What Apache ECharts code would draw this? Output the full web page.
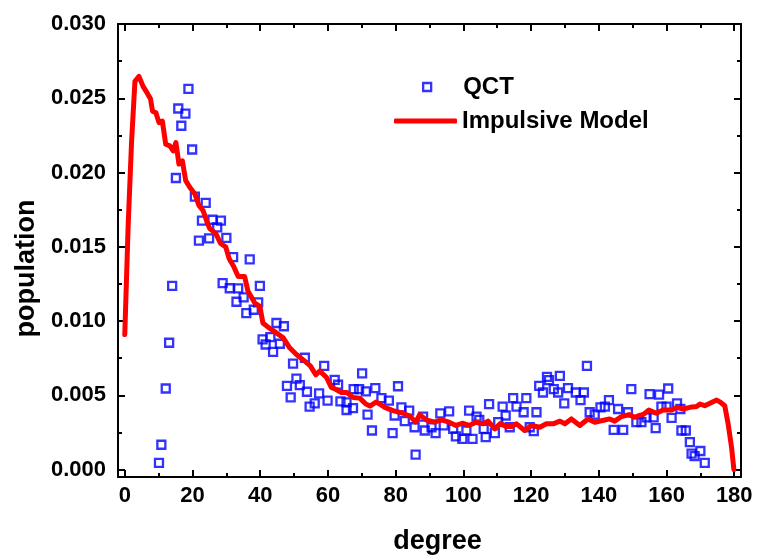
<!DOCTYPE html>
<html><head><meta charset="utf-8">
<script src="https://cdn.jsdelivr.net/npm/echarts@6/dist/echarts.min.js"></script>
<style>html,body{margin:0;padding:0;background:#fff}#c{width:757px;height:560px}</style>
</head><body><div id="c"></div>
<script>
var qctDeg = [10.1,10.8,12.1,13.1,14.0,15.1,15.8,16.7,17.9,18.8,19.9,20.7,21.9,22.8,23.9,24.9,25.9,27.3,28.4,28.9,30.0,31.0,32.0,33.0,33.5,35.1,35.9,36.9,38.1,39.4,39.9,40.7,41.6,43.0,43.8,44.8,45.8,47.0,47.9,49.0,49.7,50.7,51.7,53.2,53.8,54.6,56.1,57.4,58.9,59.9,62.0,63.0,63.7,65.5,65.5,67.4,67.6,69.2,70.1,71.2,71.7,73.0,74.0,75.8,78.0,79.1,79.7,80.7,81.7,82.7,84.0,85.6,85.9,88.1,88.6,90.6,91.8,93.2,94.2,95.8,97.0,97.8,99.7,100.9,101.7,102.7,103.9,104.7,106.0,106.6,107.6,109.3,110.3,111.6,112.5,113.7,114.7,115.7,117.8,118.6,119.6,120.8,121.6,122.4,123.5,124.7,125.3,126.7,128.0,128.5,129.8,130.9,133.2,134.6,135.6,136.5,137.3,138.8,140.5,141.8,143.0,144.4,145.7,147.2,148.6,149.6,151.1,152.6,154.1,155.0,156.2,156.8,157.8,158.5,160.0,160.5,161.5,163.1,164.1,164.4,165.7,166.9,167.4,168.3,170.0,171.3];
var qctPop = [0.00045,0.00167,0.00546,0.00854,0.01237,0.01963,0.02431,0.02315,0.02396,0.02563,0.02155,0.01838,0.01542,0.01676,0.01796,0.01557,0.01682,0.01631,0.01676,0.01255,0.0156,0.01221,0.0143,0.0113,0.0122,0.01159,0.01054,0.01415,0.01076,0.01126,0.01237,0.00876,0.00842,0.00892,0.00793,0.00987,0.00847,0.00965,0.00564,0.00486,0.00713,0.00613,0.00568,0.00753,0.00524,0.00424,0.00446,0.00513,0.00698,0.00464,0.00604,0.00571,0.00459,0.00453,0.00401,0.00414,0.00541,0.00541,0.00648,0.00526,0.0037,0.00263,0.00548,0.00481,0.00464,0.00245,0.00364,0.00561,0.00419,0.00326,0.00397,0.00285,0.001,0.00357,0.00263,0.00285,0.00245,0.00379,0.00297,0.00392,0.00274,0.00223,0.00207,0.00263,0.00397,0.00207,0.00357,0.00334,0.00274,0.00219,0.00441,0.00245,0.00319,0.00424,0.00364,0.00285,0.00481,0.00424,0.00386,0.00481,0.00285,0.00259,0.00386,0.00564,0.00519,0.00624,0.00602,0.00541,0.00519,0.00631,0.00446,0.00548,0.00519,0.00468,0.00519,0.00698,0.00386,0.0037,0.00419,0.00424,0.00468,0.00267,0.00408,0.00267,0.00386,0.00541,0.00319,0.00319,0.00352,0.00508,0.00352,0.00279,0.00504,0.00424,0.00424,0.00546,0.00348,0.00446,0.00408,0.00263,0.00263,0.00185,0.00107,0.0009,0.00125,0.00045];

var modelDeg = [0,1.0,2.0,3.0,4.2,5.4,6.6,7.6,8.2,9.2,10.1,11.1,12.1,13.3,14.3,15.1,16.0,17.0,18.0,19.2,20.7,21.9,23.1,24.3,25.1,26.9,28.3,29.8,30.8,32.2,33.5,34.0,35.4,36.4,38.4,39.9,40.8,42.6,44.8,46.8,48.7,50.7,52.9,54.8,56.4,57.6,59.6,61.0,62.3,64.0,65.6,67.4,69.4,71.2,72.4,74.3,76.8,79.2,82.2,84.4,85.9,87.1,89.1,91.5,93.5,95.8,97.8,99.9,101.7,103.7,105.8,107.3,109.3,111.0,112.5,114.2,115.7,118.1,120.1,122.6,124.5,126.5,128.5,130.0,131.9,134.4,136.8,138.8,141.1,143.2,144.7,146.7,148.9,150.6,151.9,153.1,154.8,157.0,159.0,161.5,163.0,164.9,166.9,168.9,169.9,171.3,173.3,174.8,176.0,177.2,178.2,179.2,179.9];
var modelPop = [0.00909,0.01644,0.02202,0.02614,0.02647,0.0258,0.02536,0.02496,0.02413,0.02402,0.02336,0.02346,0.0219,0.02179,0.02146,0.02202,0.02057,0.02079,0.01945,0.01901,0.01856,0.01778,0.01745,0.01667,0.01622,0.01589,0.01522,0.015,0.01422,0.01366,0.013,0.01288,0.013,0.012,0.01121,0.01099,0.00987,0.00954,0.0092,0.00887,0.0082,0.00775,0.00735,0.00698,0.00638,0.00664,0.0062,0.00553,0.00541,0.00519,0.00519,0.00486,0.00481,0.00441,0.00428,0.00455,0.00419,0.00397,0.00379,0.00357,0.00319,0.0037,0.00334,0.00319,0.00334,0.00319,0.00297,0.00312,0.00297,0.00319,0.00308,0.00326,0.00274,0.00312,0.0029,0.0029,0.00308,0.00263,0.00297,0.00285,0.00308,0.00308,0.00326,0.00308,0.00341,0.00297,0.00341,0.00319,0.0033,0.00341,0.00326,0.00357,0.0037,0.00352,0.00364,0.0037,0.00401,0.00379,0.00401,0.00401,0.00419,0.00408,0.00419,0.00424,0.00441,0.0043,0.00452,0.00468,0.00452,0.0043,0.00308,0.00152,0.0];

var xTicks = [0,20,40,60,80,100,120,140,160,180];
var yTicks = [0.000,0.005,0.010,0.015,0.020,0.025,0.030];

var FONT = '"Liberation Sans", Arial, sans-serif';
var qctData = qctDeg.map(function(d,i){return [d, qctPop[i]];});
var modelData = modelDeg.map(function(d,i){return [d, modelPop[i]];});

function xFmt(v){ return xTicks.indexOf(Math.round(v)) >= 0 && Math.abs(v-Math.round(v))<1e-6 ? String(Math.round(v)) : ''; }
function yFmt(v){ for (var i=0;i<yTicks.length;i++){ if (Math.abs(v-yTicks[i])<1e-9) return yTicks[i].toFixed(3);} return ''; }

var axisCommon = {
  axisLine: {show: true, onZero: false, lineStyle: {color: '#000', width: 2}},
  axisTick: {show: true, inside: true, length: 7, lineStyle: {color: '#000', width: 2}},
  minorTick: {show: true, splitNumber: 2, length: 4, lineStyle: {color: '#000', width: 2}},
  splitLine: {show: false}
};
function ax(extra){ var o = JSON.parse(JSON.stringify(axisCommon)); for (var k in extra) o[k]=extra[k]; return o; }

var chart = echarts.init(document.getElementById('c'));
chart.setOption({
  backgroundColor: '#fff',
  animation: false,
  grid: {left: 118, right: 16, top: 24, bottom: 80, containLabel: false},
  legend: [
    {data: [{name: 'QCT', icon: 'rect'}], left: 422, top: 75, padding: 0, itemWidth: 8, itemHeight: 8, selectedMode: false,
     itemStyle: {color: 'rgba(255,255,255,0)', borderColor: '#0000ff', borderWidth: 2.3},
     textStyle: {fontFamily: FONT, fontWeight: 'bold', fontSize: 24, color: '#000', padding: [0,0,0,27]}},
    {data: [{name: 'Impulsive Model', icon: 'roundRect'}], left: 394, top: 109, padding: 0, itemWidth: 63, itemHeight: 5, selectedMode: false,
     itemStyle: {color: '#ff0000', borderWidth: 0},
     textStyle: {fontFamily: FONT, fontWeight: 'bold', fontSize: 24, color: '#000'}}
  ],
  xAxis: [
    ax({type: 'value', position: 'bottom', min: -2, max: 182, splitNumber: 9,
      name: 'degree', nameLocation: 'middle', nameGap: 51,
      nameTextStyle: {fontFamily: FONT, fontWeight: 'bold', fontSize: 27, color: '#000', padding: [0,0,0,16]},
      axisLabel: {show: true, margin: 8, formatter: xFmt, fontFamily: FONT, fontWeight: 'bold', fontSize: 22, color: '#000'}}),
    ax({type: 'value', position: 'top', min: -2, max: 182, splitNumber: 9, axisLabel: {show: false}})
  ],
  yAxis: [
    ax({type: 'value', position: 'left', min: -0.0005, max: 0.030, splitNumber: 6,
      name: 'population', nameLocation: 'middle', nameGap: 76,
      nameTextStyle: {fontFamily: FONT, fontWeight: 'bold', fontSize: 27, color: '#000', padding: [0,36,0,0]},
      axisLabel: {show: true, margin: 12, formatter: yFmt, fontFamily: FONT, fontWeight: 'bold', fontSize: 22, color: '#000'}}),
    ax({type: 'value', position: 'right', min: -0.0005, max: 0.030, splitNumber: 6, axisLabel: {show: false}})
  ],
  series: [
    {name: 'QCT', type: 'scatter', data: qctData, symbol: 'rect', symbolSize: 8,
     itemStyle: {color: 'rgba(255,255,255,0)', borderColor: '#0000ff', borderWidth: 2.3}, z: 2},
    {name: 'Impulsive Model', type: 'line', data: modelData, symbol: 'none', showSymbol: false, smooth: false,
     lineStyle: {color: '#ff0000', width: 5, cap: 'round', join: 'round'}, itemStyle: {color: '#ff0000'}, z: 3}
  ]
});
</script></body></html>
